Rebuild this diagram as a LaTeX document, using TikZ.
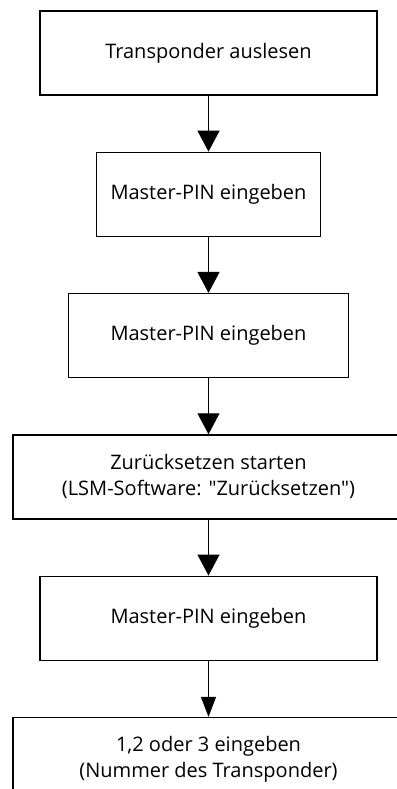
\documentclass[tikz,border=0pt]{standalone}
\usepackage{fontspec}
\setmainfont{Open Sans}[Ligatures=TeXOff]
\usetikzlibrary{positioning,arrows.meta}

\begin{document}
\begin{tikzpicture}[x=1pt,y=1pt,
    every node/.style={draw=black,line width=1.3pt,minimum height=84pt,
      align=center,inner sep=0pt,font=\fontsize{20}{26}\selectfont},
    flow/.style={line width=1.3pt,-{Triangle[width=22pt,length=21pt]}},
    flowslim/.style={line width=1.3pt,-{Triangle[width=15pt,length=20pt]}},
    node distance=56pt]
  \useasboundingbox (0,0) rectangle (396,-789);

  % steps, top to bottom
  \node[minimum width=337pt] (read) at (208.5,-53) {Transponder auslesen};
  \node[minimum width=224pt,below=of read] (pinA) {Master-PIN eingeben};
  \node[minimum width=280pt,below=of pinA] (pinB) {Master-PIN eingeben};
  \node[minimum width=391pt,below=of pinB] (reset)
    {Zurücksetzen starten\\(LSM-Software: "Zurücksetzen")};
  \node[minimum width=337pt,below=of reset] (pinC) {Master-PIN eingeben};
  \node[minimum width=391pt,below=of pinC] (number)
    {1,2 oder 3 eingeben\\(Nummer des Transponder)};

  % connectors
  \draw[flow] (read) -- (pinA);
  \draw[flow] (pinA) -- (pinB);
  \draw[flow] (pinB) -- (reset);
  \draw[flow] (reset) -- (pinC);
  \draw[flowslim] (pinC) -- (number);
\end{tikzpicture}
\end{document}
